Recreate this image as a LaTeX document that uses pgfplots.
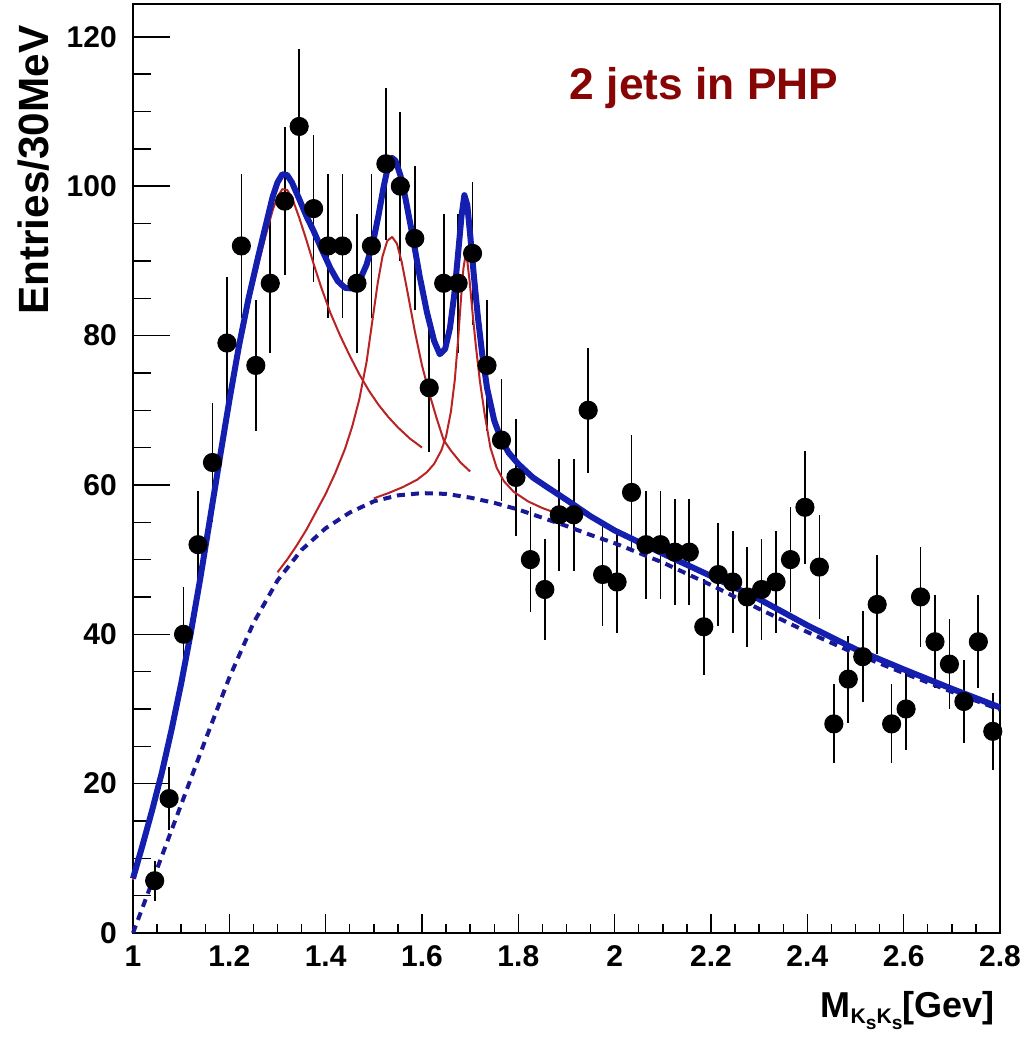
\documentclass[border=0pt]{standalone}
\usepackage{fontspec}
\setmainfont{Liberation Sans}
\usepackage{pgfplots}
\pgfplotsset{compat=1.18}
\usepackage{pgfplotstable}

\definecolor{fitblue}{RGB}{20,30,175}
\definecolor{bkgblue}{RGB}{25,25,150}
\definecolor{fitred}{RGB}{185,35,35}
\definecolor{titlered}{RGB}{135,5,5}

\pgfplotstableread{
x y e
1.045 7 2.65
1.075 18 4.24
1.105 40 6.32
1.135 52 7.21
1.165 63 7.94
1.195 79 8.89
1.225 92 9.59
1.255 76 8.72
1.285 87 9.33
1.315 98 9.90
1.345 108 10.39
1.375 97 9.85
1.405 92 9.59
1.435 92 9.59
1.465 87 9.33
1.495 92 9.59
1.525 103 10.15
1.555 100 10.00
1.585 93 9.64
1.615 73 8.54
1.645 87 9.33
1.675 87 9.33
1.705 91 9.54
1.735 76 8.72
1.765 66 8.12
1.795 61 7.81
1.825 50 7.07
1.855 46 6.78
1.885 56 7.48
1.915 56 7.48
1.945 70 8.37
1.975 48 6.93
2.005 47 6.86
2.035 59 7.68
2.065 52 7.21
2.095 52 7.21
2.125 51 7.14
2.155 51 7.14
2.185 41 6.40
2.215 48 6.93
2.245 47 6.86
2.275 45 6.71
2.305 46 6.78
2.335 47 6.86
2.365 50 7.07
2.395 57 7.55
2.425 49 7.00
2.455 28 5.29
2.485 34 5.83
2.515 37 6.08
2.545 44 6.63
2.575 28 5.29
2.605 30 5.48
2.635 45 6.71
2.665 39 6.24
2.695 36 6.00
2.725 31 5.57
2.755 39 6.24
2.785 27 5.20
}\datatable

\begin{document}
\begin{tikzpicture}
\useasboundingbox (-46.55pt,-36.4pt) rectangle (313.95pt,326.55pt);
\pgfplotsset{common/.style={at={(0pt,0pt)}, anchor=south west, scale only axis,
  width=303.45pt, height=325.15pt, xmin=1, xmax=2.8, ymin=0, ymax=124.4,
  xtick={1,1.2,1.4,1.6,1.8,2,2.2,2.4,2.6,2.8}, ytick={0,20,40,60,80,100,120},
  minor x tick num=3, minor y tick num=3, tick pos=left, tick align=inside}}
% axis that only draws the long y ticks
\begin{axis}[common, axis line style={draw=none}, xticklabels={}, yticklabels={},
  xtick style={draw=none}, major tick length=12.95pt, minor tick length=6.3pt,
  ytick style={black, line width=0.5pt}]
\end{axis}
\begin{axis}[common, clip=false, axis line style={black, line width=0.5pt},
  ytick style={draw=none}, xtick style={black, line width=0.5pt},
  major tick length=6.65pt, minor tick length=3.3pt,
  ticklabel style={font=\fontsize{10.5}{12}\selectfont\bfseries},
  /pgf/number format/assume math mode=true,
  yticklabel style={anchor=east, inner sep=0pt, xshift=-5.5pt},
  xticklabel style={anchor=north, inner sep=0pt, yshift=-4.2pt}]

\addplot[only marks, mark=*, mark size=3.15pt, black,
  error bars/.cd, y dir=both, y explicit, error mark=none,
  error bar style={line width=0.6pt, black}]
  table[x=x, y=y, y error=e]{\datatable};

% background
\addplot[bkgblue, line width=1.4pt, dash pattern=on 2.8pt off 2.1pt] coordinates {
(1.00,0) (1.05,8.6) (1.10,17.2) (1.15,25.8) (1.20,34.2) (1.25,41.5) (1.30,47.2)
(1.35,51.3) (1.40,54.2) (1.45,56.3) (1.50,57.8) (1.55,58.6) (1.60,58.9) (1.65,58.8)
(1.70,58.3) (1.75,57.6) (1.80,56.7) (1.85,55.6) (1.90,54.5) (1.95,53.3) (2.00,52.2)
(2.10,49.6) (2.20,46.6) (2.30,43.4) (2.40,40.3) (2.50,37.4) (2.60,34.8) (2.70,32.3) (2.80,29.9)};

% peak 1 + background
\addplot[fitred, line width=0.7pt, line join=round] coordinates {
(1.000,7.1) (1.020,11.6) (1.040,16.3) (1.060,21.3) (1.080,27.0) (1.100,33.2) (1.120,40.0)
(1.140,47.3) (1.160,55.2) (1.180,63.1) (1.200,70.8) (1.220,78.0) (1.240,84.2) (1.260,89.5)
(1.275,93.3) (1.290,96.8) (1.300,98.6) (1.310,99.6) (1.320,99.5) (1.330,98.5) (1.345,95.8)
(1.360,92.8) (1.375,89.6) (1.390,86.6) (1.410,83.0) (1.430,80.0) (1.450,77.3) (1.470,74.8)
(1.490,72.6) (1.510,70.7) (1.530,69.1) (1.550,67.7) (1.575,66.2) (1.600,65.0)};

% peak 2 + background
\addplot[fitred, line width=0.7pt, line join=round] coordinates {
(1.300,48.3) (1.320,50.0) (1.340,51.9) (1.360,54.0) (1.380,56.4) (1.400,58.8) (1.420,61.6)
(1.440,64.8) (1.455,67.8) (1.470,71.5) (1.485,76.5) (1.497,82.0) (1.508,87.0) (1.518,90.6)
(1.528,92.7) (1.538,93.2) (1.548,92.3) (1.558,89.8) (1.570,85.8) (1.585,80.6) (1.600,76.0)
(1.615,72.3) (1.630,69.0) (1.645,66.0) (1.660,64.6) (1.680,63.0) (1.700,61.8)};

% peak 3 + background
\addplot[fitred, line width=0.7pt, line join=round] coordinates {
(1.500,58.2) (1.530,58.9) (1.560,59.7) (1.590,60.7) (1.610,61.7) (1.625,62.8) (1.640,64.6)
(1.650,66.5) (1.660,69.8) (1.668,74.0) (1.675,79.5) (1.681,85.0) (1.686,89.0) (1.690,90.6)
(1.694,90.0) (1.699,87.2) (1.705,83.0) (1.712,78.5) (1.720,74.0) (1.730,69.5) (1.742,65.0)
(1.755,62.3) (1.770,60.5) (1.790,59.1) (1.820,57.8) (1.850,56.9) (1.880,56.2) (1.900,55.8)};

% total fit
\addplot[fitblue, line width=2.1pt, line join=round] coordinates {
(1.000,7.3) (1.020,11.8) (1.040,16.5) (1.060,21.5) (1.080,27.2) (1.100,33.4) (1.120,40.2)
(1.140,47.6) (1.160,55.5) (1.180,63.5) (1.200,71.3) (1.220,78.6) (1.240,85.0) (1.260,90.6)
(1.275,94.6) (1.290,98.6) (1.300,100.5) (1.310,101.6) (1.320,101.5) (1.330,100.5) (1.345,98.3)
(1.360,96.0) (1.375,94.0) (1.390,91.8) (1.410,89.0) (1.425,87.3) (1.440,86.4) (1.455,86.3)
(1.470,87.3) (1.485,89.5) (1.500,93.0) (1.510,96.2) (1.520,99.8) (1.530,102.8) (1.538,103.8)
(1.545,103.4) (1.555,101.5) (1.565,98.6) (1.580,93.5) (1.595,88.0) (1.610,83.2) (1.625,79.3)
(1.637,77.5) (1.648,78.2) (1.658,81.0) (1.667,85.5) (1.675,91.0) (1.682,96.0) (1.688,98.8)
(1.694,97.5) (1.700,93.5) (1.708,87.8) (1.716,82.5) (1.725,77.5) (1.735,73.0) (1.750,68.6)
(1.765,66.0) (1.780,64.3) (1.800,62.8) (1.830,61.0) (1.860,59.7) (1.900,58.0) (1.950,55.8)
(2.000,53.9) (2.100,50.8) (2.200,47.8) (2.300,44.7) (2.400,41.2) (2.500,38.0) (2.600,35.3)
(2.700,32.7) (2.800,30.2)};

\node[anchor=base west, inner sep=0pt, text=titlered,
  font=\fontsize{15.5}{18}\selectfont\bfseries] at (axis cs:1.906,111.6) {2 jets in PHP};
\node[rotate=90, anchor=base east, inner sep=0pt,
  font=\fontsize{14.8}{17}\selectfont\bfseries]
  at ([xshift=-29.4pt,yshift=-7.35pt]rel axis cs:0,1) {Entries/30MeV};
\node[anchor=base east, inner sep=0pt, font=\fontsize{12.6}{15}\selectfont\bfseries]
  at ([xshift=-1.75pt,yshift=-29.4pt]rel axis cs:1,0)
  {M\raisebox{-2.1pt}{\fontsize{7.4}{8}\selectfont K\raisebox{-2.4pt}{\fontsize{6.7}{7}\selectfont s}K\raisebox{-2.4pt}{\fontsize{6.7}{7}\selectfont s}}[Gev]};
\end{axis}
\end{tikzpicture}
\end{document}
